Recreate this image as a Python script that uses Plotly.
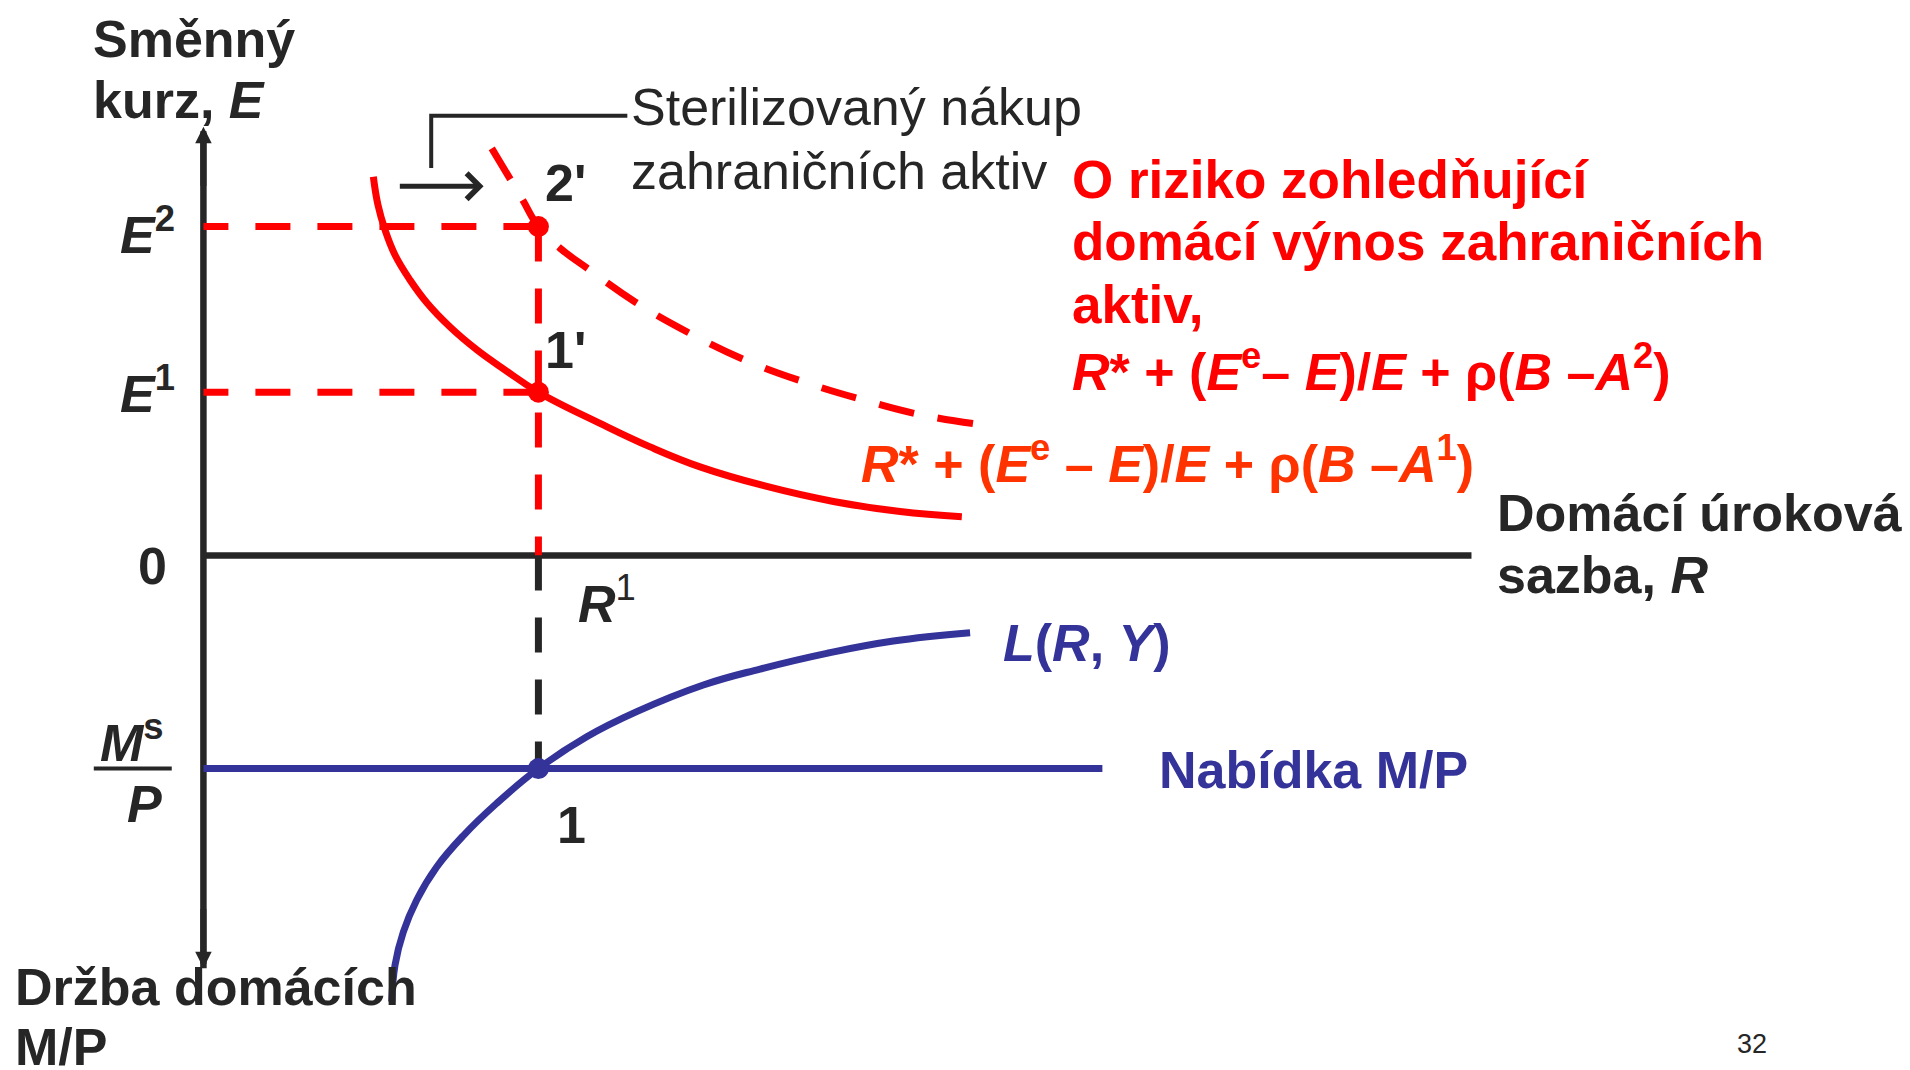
import plotly.graph_objects as go

# ---------------- data (conceptual units, origin at axes crossing) ----------------
R1 = 2.75          # domestic interest rate at equilibrium
E1 = 1.34          # exchange rate, initial
E2 = 2.70          # exchange rate after sterilized purchase
MS_P = -1.75       # real money supply (drawn downward)

AX_X_MAX = 10.41
AX_Y_TOP = 3.52
AX_Y_BOT = -3.39
MS_LINE_END = 7.38

# foreign asset return, risk premium with A1 (solid)
ra1_r = [1.395, 1.433, 1.491, 1.573, 1.696, 1.836, 2.025, 2.247, 2.477, 2.75,
         3.256, 3.667, 4.077, 4.625, 5.172, 5.719, 6.226]
ra1_e = [3.109, 2.877, 2.672, 2.466, 2.261, 2.072, 1.875, 1.686, 1.522, 1.34,
         1.084, 0.891, 0.727, 0.566, 0.443, 0.360, 0.318]
# foreign asset return, risk premium with A2 (dashed)
ra2_r = [2.367, 2.613, 2.75, 2.928, 3.147, 3.544, 3.995, 4.447, 4.925, 5.418, 5.897, 6.403]
ra2_e = [3.342, 2.932, 2.70, 2.522, 2.360, 2.081, 1.822, 1.604, 1.426, 1.276, 1.153, 1.071]
# money demand L(R, Y)
l_r = [1.546, 1.573, 1.641, 1.751, 1.915, 2.134, 2.408, 2.75, 3.147, 3.557,
       4.104, 4.570, 5.117, 5.664, 6.294]
l_m = [-3.664, -3.363, -3.092, -2.829, -2.558, -2.300, -2.035, -1.75, -1.489, -1.283,
       -1.064, -0.933, -0.804, -0.703, -0.635]

# sterilized purchase annotation bracket / arrow
bracket_x = [1.87, 1.87, 3.48]
bracket_y = [3.18, 3.61, 3.61]
shift_from = (1.60, 3.03)
shift_to = (2.30, 3.03)

DARK = "#262626"
RED = "#FF0000"
ORANGE = "#FF3300"
BLUE = "#333399"
FONT = "Liberation Sans, Arial, sans-serif"
FS = 52
DASH = "35px,27px"

fig = go.Figure()

def line(x, y, color, width, dash=None, shape="linear"):
    ln = dict(color=color, width=width, dash=dash, shape=shape)
    if shape == "spline":
        ln["smoothing"] = 1.2
    fig.add_trace(go.Scatter(x=x, y=y, mode="lines", line=ln,
                             hoverinfo="skip", showlegend=False))

# axes
line([0, AX_X_MAX], [0, 0], DARK, 6.5)
line([0, 0], [AX_Y_BOT, AX_Y_TOP - 0.05], DARK, 6.5)

# guide lines (drawn starting from the curve points)
line([R1, 0], [E2, E2], RED, 7, dash=DASH)
line([R1, 0], [E1, E1], RED, 7, dash=DASH)
line([R1, R1], [E2, 0], RED, 7, dash=DASH)
line([R1, R1], [0, MS_P], DARK, 7, dash=DASH)

# money supply
line([0, MS_LINE_END], [MS_P, MS_P], BLUE, 7)

# curves
line(ra1_r, ra1_e, RED, 7, shape="spline")
line(ra2_r, ra2_e, RED, 7, dash="36px,24px", shape="spline")
line(l_r, l_m, BLUE, 7, shape="spline")

# bracket
line(bracket_x, bracket_y, DARK, 4)

# points
fig.add_trace(go.Scatter(x=[R1, R1], y=[E2, E1], mode="markers",
                         marker=dict(color=RED, size=21), hoverinfo="skip", showlegend=False))
fig.add_trace(go.Scatter(x=[R1], y=[MS_P], mode="markers",
                         marker=dict(color=BLUE, size=21), hoverinfo="skip", showlegend=False))

# fraction bar of Ms/P
line([-0.90, -0.26], [MS_P, MS_P], DARK, 4)

ann = []
def txt(x, y, text, color=DARK, size=FS, xanchor="left"):
    ann.append(dict(x=x, y=y, text=text, showarrow=False, xanchor=xanchor, yanchor="middle",
                    font=dict(family=FONT, size=size, color=color)))

txt(-0.92, 4.24, "<b>Směnný</b>")
txt(-0.92, 3.74, "<b>kurz, <i>E</i></b>")
txt(3.49, 3.68, "Sterilizovaný nákup")
txt(3.49, 3.16, "zahraničních aktiv")
txt(7.11, 3.09, "<b>O riziko zohledňující</b>", RED, 53)
txt(7.11, 2.58, "<b>domácí výnos zahraničních</b>", RED, 53)
txt(7.11, 2.06, "<b>aktiv,</b>", RED, 53)
txt(7.11, 1.54, "<b><i>R</i>* + (<i>E</i><sup>e</sup>– <i>E</i>)/<i>E</i> + ρ(<i>B</i> –<i>A</i><sup>2</sup>)</b>", RED)
txt(5.38, 0.78, "<b><i>R</i>* + (<i>E</i><sup>e</sup> – <i>E</i>)/<i>E</i> + ρ(<i>B</i> –<i>A</i><sup>1</sup>)</b>", ORANGE)
txt(10.60, 0.35, "<b>Domácí úroková</b>")
txt(10.60, -0.16, "<b>sazba, <i>R</i></b>")
txt(6.55, -0.72, "<b><i>L</i>(<i>R</i>, <i>Y</i>)</b>", BLUE)
txt(7.83, -1.76, "<b>Nabídka M/P</b>", BLUE)
txt(-0.42, -0.09, "<b>0</b>", xanchor="center")
txt(-0.22, E2 - 0.04, "<b><i>E</i><sup>2</sup></b>", xanchor="right")
txt(-0.22, E1 + 0.02, "<b><i>E</i><sup>1</sup></b>", xanchor="right")
txt(2.79, 3.06, "<b>2'</b>")
txt(2.79, 1.69, "<b>1'</b>")
txt(2.89, -2.21, "<b>1</b>")
txt(3.06, -0.37, "<b><i>R</i></b><sup>1</sup>")
txt(-0.59, -1.51, "<b><i>M</i><sup>s</sup></b>", xanchor="center")
txt(-0.48, -2.04, "<b><i>P</i></b>", xanchor="center")
txt(-1.56, -3.54, "<b>Držba domácích</b>")
txt(-1.56, -4.04, "<b>M/P</b>")
txt(12.71, -4.01, "32", size=27, xanchor="center")

# arrowheads on vertical axis
for yh, yt in [(AX_Y_TOP, AX_Y_TOP - 0.5), (AX_Y_BOT, AX_Y_BOT + 0.5)]:
    ann.append(dict(x=0, y=yh, ax=0, ay=yt, xref="x", yref="y", axref="x", ayref="y",
                    text="", showarrow=True, arrowhead=2, arrowsize=0.55, arrowwidth=6,
                    arrowcolor=DARK, standoff=0))
# shift arrow
ann.append(dict(x=shift_to[0], y=shift_to[1], ax=shift_from[0], ay=shift_from[1],
                xref="x", yref="y", axref="x", ayref="y", text="", showarrow=True,
                arrowhead=4, arrowsize=1.0, arrowwidth=5, arrowcolor=DARK, standoff=0))

fig.update_layout(
    width=1910, height=1070,
    margin=dict(l=0, r=0, t=0, b=0),
    paper_bgcolor="white", plot_bgcolor="white",
    xaxis=dict(range=[-1.67, 14.01], visible=False, fixedrange=True),
    yaxis=dict(range=[-4.225, 4.56], visible=False, fixedrange=True),
    annotations=ann,
    showlegend=False,
)

fig.write_html("out.html", config={"displayModeBar": False},
               post_script="document.body.style.margin='0';")
